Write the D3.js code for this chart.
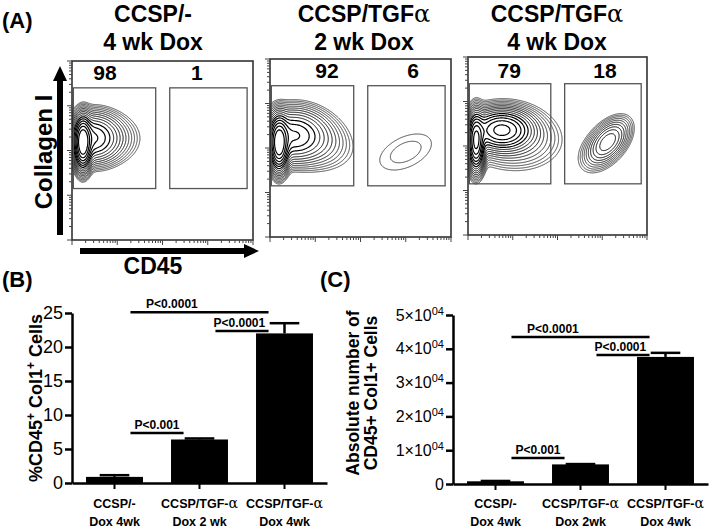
<!DOCTYPE html>
<html>
<head>
<meta charset="utf-8">
<script src="https://cdn.jsdelivr.net/npm/d3@7"></script>
<style>
  body { margin: 0; background: #fff; }
  svg { display: block; font-family: "Liberation Sans", Arial, sans-serif; }
</style>
</head>
<body>
<svg id="fig" width="711" height="528"></svg>
<script>
/* Panel A data: flow plots (both axes in decades, 0..4) */
const flowTitles = [["CCSP/-", "4 wk Dox"], ["CCSP/TGFα", "2 wk Dox"], ["CCSP/TGFα", "4 wk Dox"]];
const gatePercents = [[98, 1], [92, 6], [79, 18]];
const gateCol1 = [1.15, 3.40];
const gateCD45 = [[0.03, 1.85], [2.16, 3.87]];

// density components: [cd45, col1, sdX, sdY, rho, weight]
const clustersCtrl4wk = [
  [0.24, 2.17, 0.09, 0.27, 0, 1.0],
  [0.45, 2.28, 0.29, 0.26, 0, 0.25],
  [0.68, 2.27, 0.40, 0.29, 0, 0.04]
];
const clustersTgf2wk = [
  [0.20, 2.10, 0.10, 0.28, 0, 1.0],
  [0.50, 2.28, 0.35, 0.28, 0, 0.25],
  [0.90, 2.20, 0.43, 0.33, -0.2, 0.05],
  [3.00, 1.91, 0.56, 0.40, 0.45, 0.0087]
];
const clustersTgf4wk = [
  [0.18, 2.10, 0.09, 0.30, 0, 0.8],
  [0.75, 2.36, 0.32, 0.21, 0, 0.55],
  [0.95, 2.22, 0.52, 0.35, -0.1, 0.06],
  [3.13, 2.10, 0.22, 0.24, 0.5, 0.11],
  [3.05, 2.00, 0.30, 0.31, 0.5, 0.025]
];
const flowClusters = [clustersCtrl4wk, clustersTgf2wk, clustersTgf4wk];

/* Panel B / C data */
const catsB = [["CCSP/-", "Dox 4wk"], ["CCSP/TGF-α", "Dox 2 wk"], ["CCSP/TGF-α", "Dox 4wk"]];
const catsC = [["CCSP/-", "Dox 4wk"], ["CCSP/TGF-α", "Dox 2wk"], ["CCSP/TGF-α", "Dox 4wk"]];
const pctValues = [0.9, 6.4, 22.0];
const pctErrors = [0.25, 0.15, 1.5];
const pctTicks = [0, 5, 10, 15, 20, 25];
const absValues = [800, 5800, 37600];
const absErrors = [100, 100, 1200];
const absTicks = [0, 10000, 20000, 30000, 40000, 50000];
// [from, to, height of line, label]
const pctComparisons = [[0, 2, 25.1, "P<0.0001"], [1, 2, 22.35, "P<0.0001"], [0, 1, 7.35, "P<0.001"]];
const absComparisons = [[0, 2, 43500, "P<0.0001"], [1, 2, 38200, "P<0.0001"], [0, 1, 7700, "P<0.001"]];

const svg = d3.select("#fig");

function alphaText(sel, str, serifSize) {
  const parts = str.split("α");
  sel.append("tspan").text(parts[0]);
  if (parts.length > 1) {
    sel.append("tspan").attr("font-family", "'DejaVu Serif', serif")
      .attr("font-weight", "normal").attr("font-size", serifSize).text("α");
    if (parts[1]) sel.append("tspan").text(parts[1]);
  }
}

/* Panel A */
const FLOW = [
  { x: 72, y: 61, w: 181, h: 179, cx: 153, lab: [0.73, 2.76] },
  { x: 270, y: 59, w: 181, h: 178, cx: 364, lab: [1.26, 3.16] },
  { x: 468, y: 57, w: 179, h: 178, cx: 557, lab: [0.92, 3.06] }
];
const levels = d3.range(1, 17).map(k => Math.pow(0.72, k));
const levelInk = d3.scaleLinear().domain([levels[15], levels[9]])
  .range(["#444", "#000"]).clamp(true);

svg.append("text").attr("x", 2).attr("y", 28).attr("font-size", 22)
  .attr("font-weight", "bold").text("(A)");

FLOW.forEach((f, p) => {
  const g = svg.append("g").attr("transform", `translate(${f.x},${f.y})`);
  const x = d3.scaleLinear().domain([0, 4]).range([0, f.w]);
  const y = d3.scaleLinear().domain([0, 4]).range([f.h, 0]);

  // titles
  flowTitles[p].forEach((t, i) => {
    const tx = svg.append("text").attr("x", f.cx).attr("y", i ? 50 : 22)
      .attr("text-anchor", "middle").attr("font-size", 23).attr("font-weight", "bold");
    alphaText(tx, t, 24);
  });

  // density grid -> contours
  const nx = f.w, ny = f.h;
  const values = new Float64Array(nx * ny);
  for (let j = 0; j < ny; j++) {
    const yd = y.invert(j + 0.5);
    for (let i = 0; i < nx; i++) {
      const xd = x.invert(i + 0.5);
      let s = 0;
      for (const [cx, cy, sx, sy, rho, w] of flowClusters[p]) {
        const u = (xd - cx) / sx, v = (yd - cy) / sy;
        s += w * Math.exp(-0.5 * (u * u - 2 * rho * u * v + v * v) / (1 - rho * rho));
      }
      values[j * nx + i] = s;
    }
  }
  const contours = d3.contours().size([nx, ny]).thresholds(levels)(values);
  const clipId = "clip" + p;
  g.append("clipPath").attr("id", clipId).append("rect")
    .attr("width", f.w).attr("height", f.h);
  g.append("g").attr("clip-path", `url(#${clipId})`)
    .selectAll("path").data(contours).join("path")
    .attr("d", d3.geoPath())
    .attr("fill", "none").attr("stroke", d => levelInk(d.value))
    .attr("stroke-width", d => d.value > levels[6] ? 1.2 : 0.95);

  // gates
  gateCD45.forEach((gx, k) => {
    g.append("rect").attr("x", x(gx[0])).attr("y", y(gateCol1[1]))
      .attr("width", x(gx[1]) - x(gx[0])).attr("height", y(gateCol1[0]) - y(gateCol1[1]))
      .attr("fill", "none").attr("stroke", "#555").attr("stroke-width", 1.3);
    g.append("text").attr("x", x(f.lab[k])).attr("y", (p === 0 ? 80 : 78) - f.y)
      .attr("text-anchor", "middle").attr("font-size", 21).attr("font-weight", "bold")
      .text(gatePercents[p][k]);
  });

  // frame
  g.append("rect").attr("width", f.w).attr("height", f.h)
    .attr("fill", "none").attr("stroke", "#333").attr("stroke-width", 1.6);

  // log ticks
  const lx = d3.scaleLog().domain([1, 1e4]).range([0, f.w]);
  const ly = d3.scaleLog().domain([1, 1e4]).range([f.h, 0]);
  const isMajor = t => Math.abs(Math.log10(t) - Math.round(Math.log10(t))) < 1e-9;
  g.append("g").selectAll("line").data(lx.ticks()).join("line")
    .attr("x1", d => lx(d)).attr("x2", d => lx(d))
    .attr("y1", f.h).attr("y2", d => f.h + (isMajor(d) ? 5 : 3))
    .attr("stroke", "#444").attr("stroke-width", 1);
  g.append("g").selectAll("line").data(ly.ticks()).join("line")
    .attr("y1", d => ly(d)).attr("y2", d => ly(d))
    .attr("x1", 0).attr("x2", d => -(isMajor(d) ? 5 : 3))
    .attr("stroke", "#444").attr("stroke-width", 1);
});

// axis arrows and labels
svg.append("line").attr("x1", 60).attr("x2", 60).attr("y1", 235).attr("y2", 78)
  .attr("stroke", "#000").attr("stroke-width", 6);
svg.append("path").attr("d", "M60,66L67,81L53,81Z").attr("fill", "#000");
svg.append("line").attr("x1", 80).attr("x2", 246).attr("y1", 251).attr("y2", 251)
  .attr("stroke", "#000").attr("stroke-width", 6);
svg.append("path").attr("d", "M259,251L244,244L244,258Z").attr("fill", "#000");
svg.append("text").attr("transform", "translate(52,152) rotate(-90)")
  .attr("text-anchor", "middle").attr("font-size", 24).attr("font-weight", "bold")
  .text("Collagen I");
svg.append("text").attr("x", 153).attr("y", 274).attr("text-anchor", "middle")
  .attr("font-size", 23).attr("font-weight", "bold").text("CD45");

/* Panels B and C */
function barPanel(o) {
  const x = d3.scaleBand().domain(d3.range(o.values.length)).range(o.xr)
    .paddingInner(0.33).paddingOuter(0.165);
  const y = d3.scaleLinear().domain([0, o.ticks[o.ticks.length - 1]]).range(o.yr);
  const g = svg.append("g");

  // bars + error bars (upper only)
  g.selectAll("rect.bar").data(o.values).join("rect").attr("class", "bar")
    .attr("x", (d, i) => x(i)).attr("width", x.bandwidth())
    .attr("y", d => y(d)).attr("height", d => y(0) - y(d)).attr("fill", "#000");
  o.values.forEach((v, i) => {
    const cx = x(i) + x.bandwidth() / 2, top = y(v + o.errors[i]);
    g.append("line").attr("x1", cx).attr("x2", cx).attr("y1", y(v)).attr("y2", top)
      .attr("stroke", "#000").attr("stroke-width", 2.5);
    g.append("line").attr("x1", cx - x.bandwidth() * 0.26).attr("x2", cx + x.bandwidth() * 0.26)
      .attr("y1", top).attr("y2", top).attr("stroke", "#000").attr("stroke-width", 2.5);
  });

  // axes
  const ya = g.append("g").attr("transform", `translate(${o.xr[0]},0)`)
    .call(d3.axisLeft(y).tickValues(o.ticks).tickSize(7).tickSizeOuter(0).tickPadding(2)
      .tickFormat(d3.format("d")));
  ya.select(".domain").attr("stroke-width", 2.5);
  ya.selectAll(".tick line").attr("stroke-width", 2.5);
  ya.selectAll(".tick text").attr("font-size", o.tickSize).attr("font-family", null).attr("fill", "#000");
  if (o.sup) ya.selectAll(".tick text").each(function (d) {
    if (!d) return;
    const t = d3.select(this).text("");
    t.append("tspan").text(`${d / 1e4}×10`);
    t.append("tspan").attr("font-size", 11).attr("dy", -6).text("04");
  });
  const xa = g.append("g").attr("transform", `translate(0,${y(0)})`)
    .call(d3.axisBottom(x).tickSize(6).tickSizeOuter(0).tickFormat(""));
  xa.select(".domain").attr("stroke-width", 2.5);
  xa.selectAll(".tick line").attr("stroke-width", 2);

  // category labels
  o.cats.forEach((c, i) => {
    c.forEach((line, k) => {
      const t = g.append("text").attr("x", x(i) + x.bandwidth() / 2).attr("y", k ? 526 : 508)
        .attr("text-anchor", "middle").attr("font-size", 12.5).attr("font-weight", "bold");
      alphaText(t, line, 14);
    });
  });

  // significance bars
  const frac = [0.3, 0.45, 0.5];
  o.comps.forEach(([a, b, h, label], k) => {
    const x1 = x(a) + x.bandwidth() * 0.78, x2 = x(b) + x.bandwidth() * 0.22;
    g.append("line").attr("x1", x1).attr("x2", x2).attr("y1", y(h)).attr("y2", y(h))
      .attr("stroke", "#000").attr("stroke-width", 2.5);
    g.append("text").attr("x", x1 + (x2 - x1) * frac[k]).attr("y", y(h) - 4)
      .attr("text-anchor", "middle").attr("font-size", 12).attr("font-weight", "bold").text(label);
  });
}

barPanel({ values: pctValues, errors: pctErrors, ticks: pctTicks, cats: catsB, comps: pctComparisons,
  xr: [72, 327], yr: [483, 313], tickSize: 18 });
barPanel({ values: absValues, errors: absErrors, ticks: absTicks, cats: catsC, comps: absComparisons,
  xr: [453, 708], yr: [484, 315], tickSize: 16, sup: true });

svg.append("text").attr("x", 2).attr("y", 287).attr("font-size", 22).attr("font-weight", "bold").text("(B)");
svg.append("text").attr("x", 320).attr("y", 287).attr("font-size", 22).attr("font-weight", "bold").text("(C)");

const yl = svg.append("text").attr("transform", "translate(42,398) rotate(-90)")
  .attr("text-anchor", "middle").attr("font-size", 18).attr("font-weight", "bold");
yl.append("tspan").text("%CD45");
yl.append("tspan").attr("font-size", 12).attr("dy", -7).text("+");
yl.append("tspan").attr("dy", 7).text(" Col1");
yl.append("tspan").attr("font-size", 12).attr("dy", -7).text("+");
yl.append("tspan").attr("dy", 7).text(" Cells");

["Absolute number of", "CD45+ Col1+ Cells"].forEach((t, i) => {
  svg.append("text").attr("transform", `translate(${i ? 377 : 359},393) rotate(-90)`)
    .attr("text-anchor", "middle").attr("font-size", 17.5).attr("font-weight", "bold").text(t);
});
</script>
</body>
</html>
